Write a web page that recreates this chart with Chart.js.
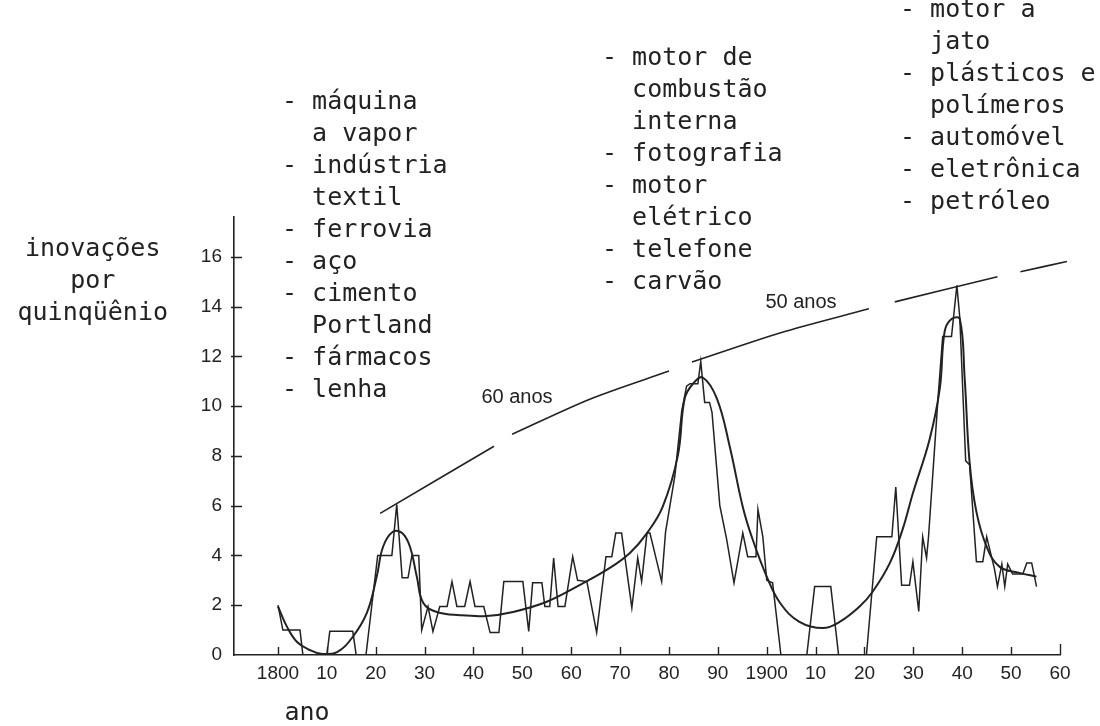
<!DOCTYPE html>
<html>
<head>
<meta charset="utf-8">
<script src="https://cdn.jsdelivr.net/npm/chart.js@4.4.0/dist/chart.umd.min.js"></script>
<style>
  html, body { margin: 0; background: #fff; }
  canvas { display: block; }
</style>
</head>
<body>
<canvas id="chart" width="1100" height="726"></canvas>
<script>
// --- Data ---

// raw count of innovations per five years (jagged line)
const RAW_YEARS = [
  1800.0, 1801.0, 1804.5, 1805.1, 1810.0, 1810.6, 1815.3, 1816.0, 1818.0, 1820.4,
  1823.3, 1824.3, 1825.4, 1826.6, 1827.4, 1828.8, 1829.4, 1830.7, 1831.7, 1833.1,
  1834.6, 1835.6, 1836.6, 1838.2, 1839.3, 1840.3, 1842.1, 1843.4, 1845.2, 1846.2,
  1850.1, 1851.3, 1852.1, 1854.0, 1854.6, 1855.6, 1856.4, 1857.3, 1858.7, 1860.3,
  1861.3, 1863.2, 1865.2, 1867.1, 1868.3, 1869.1, 1870.3, 1872.4, 1873.6, 1874.4,
  1875.5, 1876.1, 1878.5, 1879.3, 1881.2, 1882.6, 1883.6, 1884.3, 1885.9, 1886.5,
  1887.3, 1888.3, 1888.8, 1890.4, 1891.8, 1893.3, 1895.1, 1896.1, 1897.8, 1898.2,
  1899.2, 1900.0, 1901.2, 1902.9, 1908.2, 1909.8, 1913.1, 1914.7, 1920.4, 1922.5,
  1925.6, 1926.4, 1927.6, 1929.2, 1929.9, 1931.1, 1931.9, 1932.7, 1933.1, 1935.0,
  1936.0, 1937.8, 1938.9, 1939.5, 1940.7, 1941.5, 1942.9, 1944.2, 1945.0, 1946.6,
  1947.2, 1948.1, 1948.7, 1949.3, 1950.3, 1952.4, 1953.2, 1954.2, 1955.2
];
const RAW_VALUES = [
  2.0, 1.0, 1.0, 0, 0, 0.95, 0.95, 0, 0, 4.0,
  4.0, 6.05, 3.1, 3.1, 4.0, 4.0, 1.0, 1.95, 0.95, 1.95,
  1.95, 2.95, 1.95, 1.95, 2.95, 1.95, 1.95, 0.9, 0.9, 2.95,
  2.95, 0.95, 2.9, 2.9, 1.95, 1.95, 3.9, 1.95, 1.95, 3.95,
  3.0, 2.95, 0.9, 3.95, 3.95, 4.9, 4.9, 1.9, 3.9, 2.95,
  4.9, 4.9, 2.95, 4.95, 7.2, 9.8, 10.8, 10.9, 10.9, 11.8,
  10.15, 10.15, 9.75, 6.0, 4.65, 2.9, 4.9, 3.95, 3.95, 5.85,
  4.75, 3.0, 2.9, 0, 0, 2.75, 2.75, 0, 0, 4.75,
  4.75, 6.75, 2.8, 2.8, 3.75, 1.75, 4.75, 3.9, 4.75, 10.2,
  12.8, 12.8, 14.85, 13.55, 7.8, 7.65, 3.75, 3.75, 4.75, 3.45,
  2.75, 3.65, 2.75, 3.65, 3.25, 3.25, 3.7, 3.7, 2.75
];

// fitted long-wave curve (smooth line)
const TREND_YEARS = [
  1800.0, 1801.8, 1803.9, 1806.5, 1808.8, 1812.1, 1815.3, 1818.2, 1820.2, 1821.5,
  1823.5, 1825.4, 1827.0, 1828.4, 1829.7, 1832.5, 1837.2, 1842.7, 1848.1, 1855.0,
  1861.8, 1867.9, 1872.0, 1875.5, 1878.7, 1881.8, 1883.2, 1884.9, 1886.9, 1889.8,
  1892.4, 1895.1, 1897.1, 1900.0, 1902.7, 1906.7, 1911.5, 1914.9, 1919.0, 1921.7,
  1925.2, 1927.8, 1929.9, 1933.3, 1935.4, 1936.4, 1937.8, 1939.5, 1940.5, 1941.5,
  1942.9, 1945.0, 1947.6, 1951.7, 1955.2
];
const TREND_VALUES = [
  1.95, 1.15, 0.52, 0.2, 0.05, 0.12, 0.73, 1.7, 3.15, 4.35,
  4.95, 4.9, 4.35, 3.15, 2.1, 1.73, 1.6, 1.57, 1.73, 2.14,
  2.82, 3.5, 4.1, 4.9, 5.95, 8.0, 10.3, 10.9, 11.15, 10.3,
  8.4, 5.95, 4.65, 3.15, 2.1, 1.33, 1.08, 1.33, 1.95, 2.55,
  3.7, 5.05, 6.5, 8.65, 10.7, 13.0, 13.5, 13.5, 11.1, 7.75,
  5.75, 4.35, 3.55, 3.3, 3.15
];

// broken envelope through the peaks (null = gap)
const ENVELOPE_YEARS = [
  1820.9, 1844.2, 1846.0,
  1847.9, 1863.8, 1880.0, 1882.3,
  1884.7, 1902.7, 1920.9, 1923.5,
  1926.2, 1947.2, 1949.6,
  1951.9, 1961.4
];
const ENVELOPE_VALUES = [
  5.69, 8.39, null,
  8.87, 10.28, 11.41, null,
  11.77, 12.94, 13.91, null,
  14.19, 15.2, null,
  15.4, 15.81
];

const TICK_YEARS = [1800, 1810, 1820, 1830, 1840, 1850, 1860, 1870, 1880, 1890,
                    1900, 1910, 1920, 1930, 1940, 1950, 1960];
const Y_TICKS = [0, 2, 4, 6, 8, 10, 12, 14, 16];

const BLOCK_1 = ['- máquina', '  a vapor', '- indústria', '  textil', '- ferrovia',
                 '- aço', '- cimento', '  Portland', '- fármacos', '- lenha'];
const BLOCK_2 = ['- motor de', '  combustão', '  interna', '- fotografia', '- motor',
                 '  elétrico', '- telefone', '- carvão'];
const BLOCK_3 = ['- motor a', '  jato', '- plásticos e', '  polímeros', '- automóvel',
                 '- eletrônica', '- petróleo'];
const Y_TITLE = ['inovações', 'por', 'quinqüênio'];
const X_TITLE = 'ano';
const WAVE_LABELS = [['60 anos', 517, 397], ['50 anos', 801, 302]];

// --- Helpers ---

const INK = '#222';
const MONO = '25px "DejaVu Sans Mono", monospace';
const SANS = '"Liberation Sans", Arial, sans-serif';

const toPoints = (xs, ys) => xs.map((x, i) => ({ x, y: ys[i] }));

// tick marks drawn inward, plus the free-standing text
const decorPlugin = {
  id: 'decor',
  afterDraw(chart) {
    const { ctx, chartArea: area, scales: { x, y } } = chart;
    ctx.save();
    ctx.strokeStyle = INK;
    ctx.lineWidth = 1.4;
    ctx.beginPath();
    for (const t of TICK_YEARS) {
      const px = Math.round(x.getPixelForValue(t)) + 0.5;
      const len = t === 1960 ? 11 : 8;
      ctx.moveTo(px, area.bottom);
      ctx.lineTo(px, area.bottom - len);
    }
    for (const t of Y_TICKS.slice(1)) {
      const py = Math.round(y.getPixelForValue(t)) + 0.5;
      ctx.moveTo(area.left - 3, py);
      ctx.lineTo(area.left + 8, py);
    }
    ctx.stroke();

    ctx.fillStyle = INK;
    ctx.textBaseline = 'middle';
    ctx.font = MONO;
    ctx.textAlign = 'left';
    const drawBlock = (lines, left, top) => {
      lines.forEach((s, i) => ctx.fillText(s, left, top + i * 32));
    };
    drawBlock(BLOCK_1, 282, 102);
    drawBlock(BLOCK_2, 602, 58);
    drawBlock(BLOCK_3, 900, 10);

    // y title, centred as a column that ends near x=168
    const colW = ctx.measureText(Y_TITLE[2]).width;
    ctx.textAlign = 'center';
    Y_TITLE.forEach((s, i) => ctx.fillText(s, 168 - colW / 2, 249 + i * 32));
    ctx.fillText(X_TITLE, 307, 713);

    ctx.font = '20px ' + SANS;
    for (const [s, cx, cy] of WAVE_LABELS) ctx.fillText(s, cx, cy);
    ctx.restore();
  },
};

new Chart(document.getElementById('chart'), {
  type: 'line',
  data: {
    datasets: [
      {
        label: 'inovações',
        data: toPoints(RAW_YEARS, RAW_VALUES),
        borderColor: INK,
        borderWidth: 1.5,
        tension: 0,
        pointRadius: 0,
      },
      {
        label: 'onda longa',
        data: toPoints(TREND_YEARS, TREND_VALUES),
        borderColor: INK,
        borderWidth: 2,
        tension: 0.4,
        pointRadius: 0,
      },
      {
        label: 'envoltória',
        data: toPoints(ENVELOPE_YEARS, ENVELOPE_VALUES),
        borderColor: INK,
        borderWidth: 1.6,
        tension: 0.3,
        spanGaps: false,
        pointRadius: 0,
        clip: false,
      },
    ],
  },
  plugins: [decorPlugin],
  options: {
    responsive: false,
    animation: false,
    devicePixelRatio: 1,
    layout: { padding: { top: 217, right: 40, left: 0, bottom: 0 } },
    plugins: {
      legend: { display: false },
      tooltip: { enabled: false },
    },
    scales: {
      x: {
        type: 'linear',
        min: 1791,
        max: 1960,
        afterBuildTicks: (scale) => { scale.ticks = TICK_YEARS.map(v => ({ value: v })); },
        afterFit: (scale) => { scale.height = 71; },
        grid: { display: true, drawOnChartArea: false, drawTicks: false },
        border: { display: true, color: INK, width: 1.6 },
        ticks: {
          padding: 7,
          color: INK,
          font: { family: SANS, size: 19 },
          maxRotation: 0,
          autoSkip: false,
          callback: (v) => (v % 100 === 0 ? String(v) : String(v % 100)),
        },
      },
      y: {
        min: 0,
        max: 17.6,
        afterBuildTicks: (scale) => { scale.ticks = Y_TICKS.map(v => ({ value: v })); },
        afterFit: (scale) => { scale.width = 234; },
        grid: { display: true, drawOnChartArea: false, drawTicks: false },
        border: { display: true, color: INK, width: 1.6 },
        ticks: {
          padding: 12,
          color: INK,
          font: { family: SANS, size: 19 },
        },
      },
    },
  },
});
</script>
</body>
</html>
